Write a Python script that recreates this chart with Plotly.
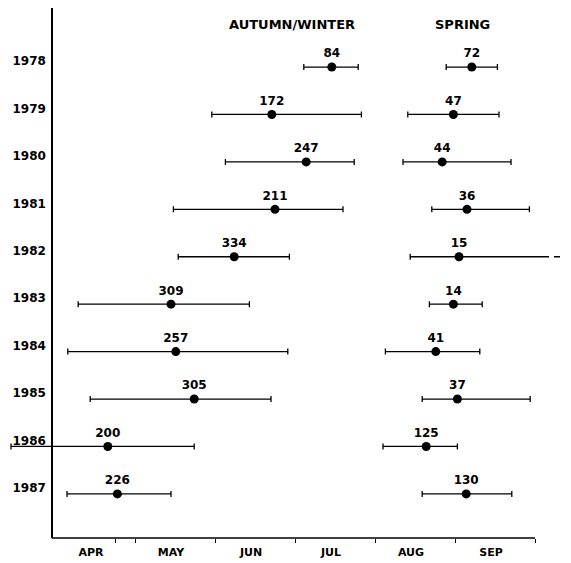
import plotly.graph_objects as go

# ---- data (x in months after 1 April) ----
years = [1978, 1979, 1980, 1981, 1982, 1983, 1984, 1985, 1986, 1987]
months = ["APR", "MAY", "JUN", "JUL", "AUG", "SEP"]

aut_n = [84, 172, 247, 211, 334, 309, 257, 305, 200, 226]
aut_mean = [3.46, 2.71, 3.14, 2.75, 2.24, 1.45, 1.51, 1.74, 0.66, 0.78]
aut_lo = [3.11, 1.96, 2.13, 1.48, 1.54, 0.29, 0.16, 0.44, -0.55, 0.15]
aut_hi = [3.79, 3.83, 3.74, 3.60, 2.93, 2.43, 2.91, 2.70, 1.74, 1.45]

spr_n = [72, 47, 44, 36, 15, 14, 41, 37, 125, 130]
spr_mean = [5.21, 4.98, 4.84, 5.15, 5.05, 4.98, 4.76, 5.03, 4.64, 5.14]
spr_lo = [4.89, 4.41, 4.35, 4.71, 4.44, 4.68, 4.13, 4.59, 4.10, 4.59]
spr_hi = [5.53, 5.55, 5.70, 5.93, 6.10, 5.34, 5.31, 5.94, 5.03, 5.71]
spr_open = [False, False, False, False, True, False, False, False, False, False]
open_end = 6.45  # open-ended range continues past the axis

ycat = [str(y) for y in years]
FONT = "DejaVu Sans"

# the page body adds an 8px offset, so the figure is drawn 8px smaller
W, H = 563, 555
X0_PX, PX_PER_MONTH = 47, 80.0

fig = go.Figure()


def add_series(mean, lo, hi, n, open_flags=None):
    plus = []
    for i, (m, h) in enumerate(zip(mean, hi)):
        if open_flags and open_flags[i]:
            plus.append(0)
        else:
            plus.append(h - m)
    minus = [m - l for m, l in zip(mean, lo)]
    fig.add_trace(go.Scatter(
        x=mean, y=ycat, mode="markers+text",
        text=[str(v) for v in n], textposition="top center",
        textfont=dict(family=FONT, size=12, color="black", weight="bold"),
        marker=dict(color="black", size=9),
        error_x=dict(type="data", symmetric=False, array=plus, arrayminus=minus,
                     color="black", thickness=1.3, width=3),
        cliponaxis=False, showlegend=False, hoverinfo="skip"))


add_series(aut_mean, aut_lo, aut_hi, aut_n)
add_series(spr_mean, spr_lo, spr_hi, spr_n, spr_open)

# open-ended spring range(s): solid to last observation, dashed beyond
for i, flag in enumerate(spr_open):
    if flag:
        fig.add_trace(go.Scatter(x=[spr_mean[i], spr_hi[i]], y=[ycat[i]] * 2, mode="lines",
                                 line=dict(color="black", width=1.3),
                                 showlegend=False, hoverinfo="skip"))
        fig.add_trace(go.Scatter(x=[spr_hi[i], open_end], y=[ycat[i]] * 2, mode="lines",
                                 line=dict(color="black", width=1.3, dash="6px,5px"),
                                 showlegend=False, hoverinfo="skip"))

x_range = [-X0_PX / PX_PER_MONTH, (W - X0_PX) / PX_PER_MONTH]
head_y = 1 - (25 - 8) / 530

fig.update_layout(
    width=W, height=H,
    margin=dict(l=0, r=0, t=0, b=25, autoexpand=False),
    paper_bgcolor="white", plot_bgcolor="white",
    showlegend=False,
    xaxis=dict(
        range=x_range, domain=[0, 1],
        showgrid=False, zeroline=False, showline=False,
        tickmode="array", tickvals=[k + 0.45 for k in range(len(months))], ticktext=months,
        ticks="", ticklabelstandoff=6,
        tickfont=dict(family=FONT, size=11, color="black", weight="bold"),
        minor=dict(tickmode="array", tickvals=[0.75, 1, 2, 3, 4, 5, 6],
                   ticks="outside", ticklen=4, tickwidth=1.3, tickcolor="black", showgrid=False),
    ),
    yaxis=dict(
        type="category", categoryorder="array", categoryarray=ycat,
        range=[9.93, -1.245], anchor="free", position=44 / W,
        showgrid=False, zeroline=False, showline=True, linecolor="black", linewidth=1.5,
        ticks="", ticklabelstandoff=3, ticklabelshift=6,
        tickfont=dict(family=FONT, size=12, color="black", weight="bold"),
    ),
    shapes=[dict(type="line", xref="x", yref="paper", x0=-0.04, x1=6.0, y0=0, y1=0,
                 line=dict(color="black", width=1.5))],
    annotations=[
        dict(text="AUTUMN/WINTER", x=2.96, y=head_y, xref="x", yref="paper",
             showarrow=False, xanchor="center", yanchor="middle",
             font=dict(family=FONT, size=13, color="black", weight="bold")),
        dict(text="SPRING", x=5.09, y=head_y, xref="x", yref="paper",
             showarrow=False, xanchor="center", yanchor="middle",
             font=dict(family=FONT, size=13, color="black", weight="bold")),
    ],
)

fig.write_html("out.html")
